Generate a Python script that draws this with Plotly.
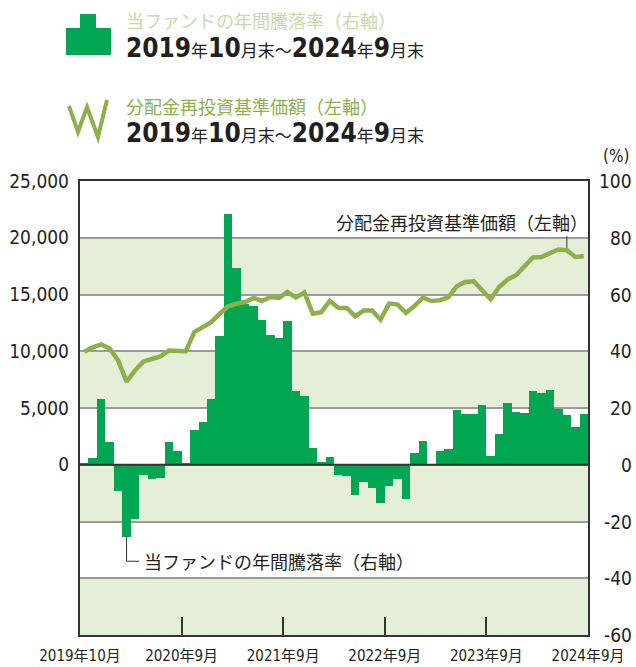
import plotly.graph_objects as go

# ---- data ----
x_labels = ["2019年10月", "2020年9月", "2021年9月", "2022年9月", "2023年9月", "2024年9月"]
x_label_pos = [0, 12, 24, 36, 48, 60]

returns = [0.6, 2.5, 23.0, 8.1, -9.1, -25.3, -19.0, -3.5, -4.9, -4.5,
           8.1, 5.0, 0.7, 12.4, 14.9, 23.3, 45.3, 88.4, 69.3, 56.5,
           56.1, 50.9, 45.9, 44.6, 50.5, 26.1, 24.4, 6.0, 1.1, 2.8,
           -3.5, -3.9, -10.6, -6.0, -8.1, -13.4, -7.4, -4.9, -12.0, 4.3,
           8.5, 0.2, 4.9, 5.6, 19.4, 17.8, 17.8, 21.2, 3.2, 10.7,
           21.9, 18.7, 18.4, 26.1, 25.4, 26.5, 19.8, 17.4, 13.4, 17.8]

nav = [9950, 10340, 10600, 10250, 9190, 7330, 8300, 9100, 9320, 9540,
       10070, 10070, 10010, 11690, 12150, 12570, 13310, 13960, 14200, 14340,
       14690, 14430, 14780, 14690, 15220, 14730, 15170, 13310, 13450, 14430,
       13840, 13810, 13070, 13600, 13600, 12780, 14200, 14130, 13370, 13980,
       14730, 14430, 14500, 14750, 15720, 16100, 16170, 15370, 14580, 15660,
       16320, 16700, 17430, 18260, 18310, 18670, 18970, 18900, 18310, 18370]

left_ticks = [0, 5000, 10000, 15000, 20000, 25000]
left_ticktext = ["0", "5,000", "10,000", "15,000", "20,000", "25,000"]
right_ticks = [100, 80, 60, 40, 20, 0, -20, -40, -60]

months = list(range(len(returns)))
xc = [m + 0.5 for m in months]

# ---- style ----
W, H = 636, 667
L, R, T, B = 80, 588, 181, 635
BAR = "#00A651"
LINE = "#8DB04B"
BAND = "#E5EFD7"
GRID = "#9B9B9B"
DARK = "#231F20"
NUMF = "DejaVu Sans Condensed, Noto Sans CJK JP"
JPF = "Noto Sans CJK JP"


def px(xp):
    return (xp - L) / (R - L)


def py(yp):
    return (B - yp) / (B - T)


fig = go.Figure()
fig.add_trace(go.Bar(x=xc, y=returns, width=[1.0] * len(returns),
                     marker=dict(color=BAR, line=dict(width=0)),
                     yaxis="y", showlegend=False))
fig.add_trace(go.Scatter(x=xc, y=nav, mode="lines",
                         line=dict(color=LINE, width=4.5),
                         yaxis="y2", showlegend=False))

shapes = []
for y0, y1 in [(60, 80), (20, 40), (-20, 0), (-60, -40)]:
    shapes.append(dict(type="rect", xref="paper", yref="y", x0=0, x1=1, y0=y0, y1=y1,
                       fillcolor=BAND, line=dict(width=0), layer="below"))
shapes.append(dict(type="line", xref="paper", yref="y", x0=0, x1=1, y0=0, y1=0,
                   line=dict(color="#333333", width=2), layer="above"))
shapes.append(dict(type="line", xref="x", yref="y2", x0=57.5, x1=57.5,
                   y0=nav[57] + 200, y1=20150, line=dict(color="#333333", width=1)))
shapes.append(dict(type="path", xref="x", yref="y",
                   path=f"M 5.5 {returns[5]} L 5.5 -34 L 7.0 -34",
                   line=dict(color="#333333", width=1)))
bar_icon = [(66, 55), (66, 28), (80, 28), (80, 14), (96, 14), (96, 28), (111, 28), (111, 55)]
path = "M " + " L ".join(f"{px(a):.4f} {py(b):.4f}" for a, b in bar_icon) + " Z"
shapes.append(dict(type="path", xref="paper", yref="paper", path=path,
                   fillcolor=BAR, line=dict(width=0)))
w_icon = [(69, 106), (78, 132), (87, 107), (98, 137), (107, 100)]
path = "M " + " L ".join(f"{px(a):.4f} {py(b):.4f}" for a, b in w_icon)
shapes.append(dict(type="path", xref="paper", yref="paper", path=path,
                   line=dict(color=LINE, width=4)))

date_txt = ('<b>2019</b><span style="font-size:17px">年</span><b>10</b>'
            '<span style="font-size:17px">月末～</span><b>2024</b>'
            '<span style="font-size:17px">年</span><b>9</b>'
            '<span style="font-size:17px">月末</span>')

ann = []
ann.append(dict(text="当ファンドの年間騰落率（右軸）", x=px(124), y=py(20), xref="paper", yref="paper",
                xanchor="left", yanchor="middle", showarrow=False,
                font=dict(family=JPF, size=18, color="#C5DBAA")))
ann.append(dict(text=date_txt, x=px(124), y=py(48), xref="paper", yref="paper",
                xanchor="left", yanchor="middle", showarrow=False,
                font=dict(family=NUMF, size=26, color=DARK)))
ann.append(dict(text="分配金再投資基準価額（左軸）", x=px(124), y=py(106), xref="paper", yref="paper",
                xanchor="left", yanchor="middle", showarrow=False,
                font=dict(family=JPF, size=18, color=LINE)))
ann.append(dict(text=date_txt, x=px(124), y=py(133), xref="paper", yref="paper",
                xanchor="left", yanchor="middle", showarrow=False,
                font=dict(family=NUMF, size=26, color=DARK)))
ann.append(dict(text="(%)", x=px(631), y=py(156), xref="paper", yref="paper",
                xanchor="right", yanchor="middle", showarrow=False,
                font=dict(family=NUMF, size=17, color=DARK)))
ann.append(dict(text="分配金再投資基準価額（左軸）", x=px(590), y=py(222), xref="paper", yref="paper",
                xanchor="right", yanchor="middle", showarrow=False,
                font=dict(family=JPF, size=18, color=DARK)))
ann.append(dict(text="当ファンドの年間騰落率（右軸）", x=7.3, y=-34, xref="x", yref="y",
                xanchor="left", yanchor="middle", showarrow=False,
                font=dict(family=JPF, size=18, color=DARK)))
for v in right_ticks:
    ann.append(dict(text=str(v), x=px(634), y=v, xref="paper", yref="y",
                    xanchor="right", yanchor="middle", showarrow=False,
                    font=dict(family=NUMF, size=19, color=DARK)))

fig.update_layout(
    template="none",
    width=W, height=H,
    margin=dict(l=L, r=W - R, t=T, b=H - B, pad=0, autoexpand=False),
    paper_bgcolor="white", plot_bgcolor="white",
    bargap=0, shapes=shapes, annotations=ann,
    xaxis=dict(range=[0, 60], tickvals=x_label_pos, ticktext=x_labels, automargin=False,
               ticks="inside", ticklen=18, tickwidth=1.5, tickcolor="#333333",
               showgrid=False, zeroline=False, showline=True, mirror=True,
               linecolor="#333333", linewidth=1.5,
               tickfont=dict(family=NUMF, size=15, color=DARK), ticklabelstandoff=6),
    yaxis=dict(range=[-60, 100], side="right", tickvals=right_ticks, showticklabels=False,
               automargin=False,
               ticks="", showgrid=True, gridcolor=GRID, gridwidth=1.5, zeroline=False,
               showline=True, mirror=True, linecolor="#333333", linewidth=1.5),
    yaxis2=dict(range=[-15000, 25000], overlaying="y", side="left", automargin=False,
                tickvals=left_ticks, ticktext=left_ticktext, ticks="",
                showgrid=False, zeroline=False, showline=False,
                tickfont=dict(family=NUMF, size=19, color=DARK), ticklabelstandoff=10),
)

fig.write_html("out.html", config={"displayModeBar": False},
               post_script="document.body.style.margin='0px';document.body.style.overflow='hidden';")
